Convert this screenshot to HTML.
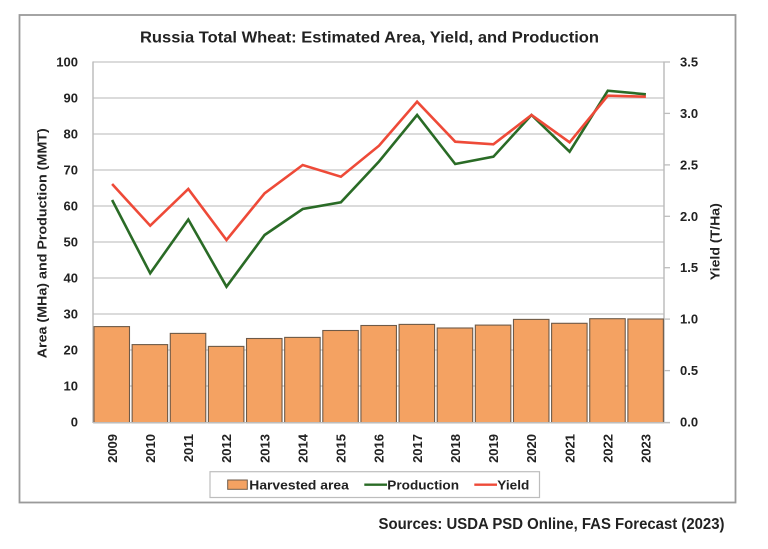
<!DOCTYPE html>
<html>
<head>
<meta charset="utf-8">
<style>
html,body{margin:0;padding:0;background:#fff;}
svg{display:block;}
text{font-family:"Liberation Sans",sans-serif;font-weight:bold;fill:#222;}
</style>
</head>
<body>
<svg width="768" height="549" viewBox="0 0 768 549" xmlns="http://www.w3.org/2000/svg">
<rect x="0" y="0" width="768" height="549" fill="#fff"/>
<!-- outer border -->
<rect x="19.5" y="15" width="716" height="487.5" fill="none" stroke="#9a9a9a" stroke-width="1.8"/>
<!-- title -->
<text x="369.5" y="42.7" font-size="16" text-anchor="middle" textLength="459" lengthAdjust="spacingAndGlyphs">Russia Total Wheat: Estimated Area, Yield, and Production</text>

<!-- gridlines -->
<g stroke="#cfcfcf" stroke-width="1.5">
<line x1="93" y1="62" x2="664" y2="62"/>
<line x1="93" y1="98" x2="664" y2="98"/>
<line x1="93" y1="134" x2="664" y2="134"/>
<line x1="93" y1="170" x2="664" y2="170"/>
<line x1="93" y1="206" x2="664" y2="206"/>
<line x1="93" y1="242" x2="664" y2="242"/>
<line x1="93" y1="278" x2="664" y2="278"/>
<line x1="93" y1="314" x2="664" y2="314"/>
<line x1="93" y1="350" x2="664" y2="350"/>
<line x1="93" y1="386" x2="664" y2="386"/>
</g>
<!-- axes -->
<line x1="93" y1="61.5" x2="93" y2="423" stroke="#bdbdbd" stroke-width="1.5"/>
<line x1="664" y1="61.5" x2="664" y2="423" stroke="#bdbdbd" stroke-width="1.5"/>
<g stroke="#bdbdbd" stroke-width="1.3">
<line x1="664" y1="62" x2="670" y2="62"/>
<line x1="664" y1="113.4" x2="670" y2="113.4"/>
<line x1="664" y1="164.9" x2="670" y2="164.9"/>
<line x1="664" y1="216.3" x2="670" y2="216.3"/>
<line x1="664" y1="267.7" x2="670" y2="267.7"/>
<line x1="664" y1="319.1" x2="670" y2="319.1"/>
<line x1="664" y1="370.6" x2="670" y2="370.6"/>
<line x1="664" y1="422.5" x2="670" y2="422.5"/>
</g>

<!-- bars -->
<g fill="#F4A262" stroke="#6e5a48" stroke-width="1.1">
<rect x="94" y="326.6" width="35.5" height="96.1"/>
<rect x="132.13" y="344.6" width="35.5" height="78.1"/>
<rect x="170.27" y="333.4" width="35.5" height="89.3"/>
<rect x="208.4" y="346.4" width="35.5" height="76.3"/>
<rect x="246.53" y="338.5" width="35.5" height="84.2"/>
<rect x="284.67" y="337.4" width="35.5" height="85.3"/>
<rect x="322.8" y="330.5" width="35.5" height="92.2"/>
<rect x="360.93" y="325.5" width="35.5" height="97.2"/>
<rect x="399.07" y="324.4" width="35.5" height="98.3"/>
<rect x="437.2" y="328.0" width="35.5" height="94.7"/>
<rect x="475.33" y="325.1" width="35.5" height="97.6"/>
<rect x="513.47" y="319.4" width="35.5" height="103.3"/>
<rect x="551.6" y="323.3" width="35.5" height="99.4"/>
<rect x="589.73" y="318.7" width="35.5" height="104.0"/>
<rect x="627.87" y="319.0" width="35.5" height="103.7"/>
</g>
<line x1="93" y1="422.7" x2="670" y2="422.7" stroke="#bdbdbd" stroke-width="1.3"/>

<!-- production line -->
<polyline fill="none" stroke="#2a6b26" stroke-width="2.6" stroke-linejoin="miter" points="112.1,200 150.2,273.3 188.3,219.5 226.5,286.7 264.6,235 302.7,209 340.9,202.3 379,161.5 417.1,115 455.2,164 493.4,156.7 531.5,115 569.6,151.7 607.8,90.7 645.9,94.3"/>
<!-- yield line -->
<polyline fill="none" stroke="#ee4a38" stroke-width="2.6" stroke-linejoin="miter" points="112.1,184 150.2,225.7 188.3,189 226.5,240 264.6,193.3 302.7,165 340.9,176.7 379,145.7 417.1,101.7 455.2,141.7 493.4,144.3 531.5,115 569.6,142.3 607.8,95.7 645.9,96.7"/>

<!-- left tick labels -->
<g font-size="13" text-anchor="end">
<text x="78" y="66.5">100</text>
<text x="78" y="102.5">90</text>
<text x="78" y="138.5">80</text>
<text x="78" y="174.5">70</text>
<text x="78" y="210.5">60</text>
<text x="78" y="246.5">50</text>
<text x="78" y="282.5">40</text>
<text x="78" y="318.5">30</text>
<text x="78" y="354.5">20</text>
<text x="78" y="390.5">10</text>
<text x="78" y="426.5">0</text>
</g>
<!-- right tick labels -->
<g font-size="13" text-anchor="start">
<text x="680" y="66.5">3.5</text>
<text x="680" y="117.9">3.0</text>
<text x="680" y="169.4">2.5</text>
<text x="680" y="220.8">2.0</text>
<text x="680" y="272.2">1.5</text>
<text x="680" y="323.6">1.0</text>
<text x="680" y="375.1">0.5</text>
<text x="680" y="426.5">0.0</text>
</g>

<!-- axis titles -->
<text transform="translate(46.5,243.3) rotate(-90)" font-size="13" text-anchor="middle" textLength="230" lengthAdjust="spacingAndGlyphs">Area (MHa) and Production (MMT)</text>
<text transform="translate(719.5,241.7) rotate(-90)" font-size="13" text-anchor="middle" textLength="77" lengthAdjust="spacingAndGlyphs">Yield (T/Ha)</text>

<!-- year labels -->
<g font-size="13" text-anchor="end">
<text transform="translate(116.8,434) rotate(-90)">2009</text>
<text transform="translate(154.9,434) rotate(-90)">2010</text>
<text transform="translate(193,434) rotate(-90)">2011</text>
<text transform="translate(231.2,434) rotate(-90)">2012</text>
<text transform="translate(269.3,434) rotate(-90)">2013</text>
<text transform="translate(307.4,434) rotate(-90)">2014</text>
<text transform="translate(345.6,434) rotate(-90)">2015</text>
<text transform="translate(383.7,434) rotate(-90)">2016</text>
<text transform="translate(421.8,434) rotate(-90)">2017</text>
<text transform="translate(459.9,434) rotate(-90)">2018</text>
<text transform="translate(498.1,434) rotate(-90)">2019</text>
<text transform="translate(536.2,434) rotate(-90)">2020</text>
<text transform="translate(574.3,434) rotate(-90)">2021</text>
<text transform="translate(612.5,434) rotate(-90)">2022</text>
<text transform="translate(650.6,434) rotate(-90)">2023</text>
</g>

<!-- legend -->
<rect x="210" y="471.7" width="329.5" height="25.8" fill="#fff" stroke="#bdbdbd" stroke-width="1.2"/>
<rect x="227.7" y="480" width="19.6" height="9.3" fill="#F4A262" stroke="#6e5a48" stroke-width="1"/>
<text x="249.3" y="489.3" font-size="13" textLength="99.5" lengthAdjust="spacingAndGlyphs">Harvested area</text>
<line x1="364.3" y1="484.7" x2="387" y2="484.7" stroke="#2a6b26" stroke-width="2.4"/>
<text x="387.3" y="489.3" font-size="13" textLength="71.7" lengthAdjust="spacingAndGlyphs">Production</text>
<line x1="474.3" y1="484.7" x2="497" y2="484.7" stroke="#ee4a38" stroke-width="2.4"/>
<text x="497.3" y="489.3" font-size="13" textLength="32" lengthAdjust="spacingAndGlyphs">Yield</text>

<!-- source -->
<text x="378.5" y="529" font-size="16" textLength="346" lengthAdjust="spacingAndGlyphs">Sources: USDA PSD Online, FAS Forecast (2023)</text>
</svg>
</body>
</html>
